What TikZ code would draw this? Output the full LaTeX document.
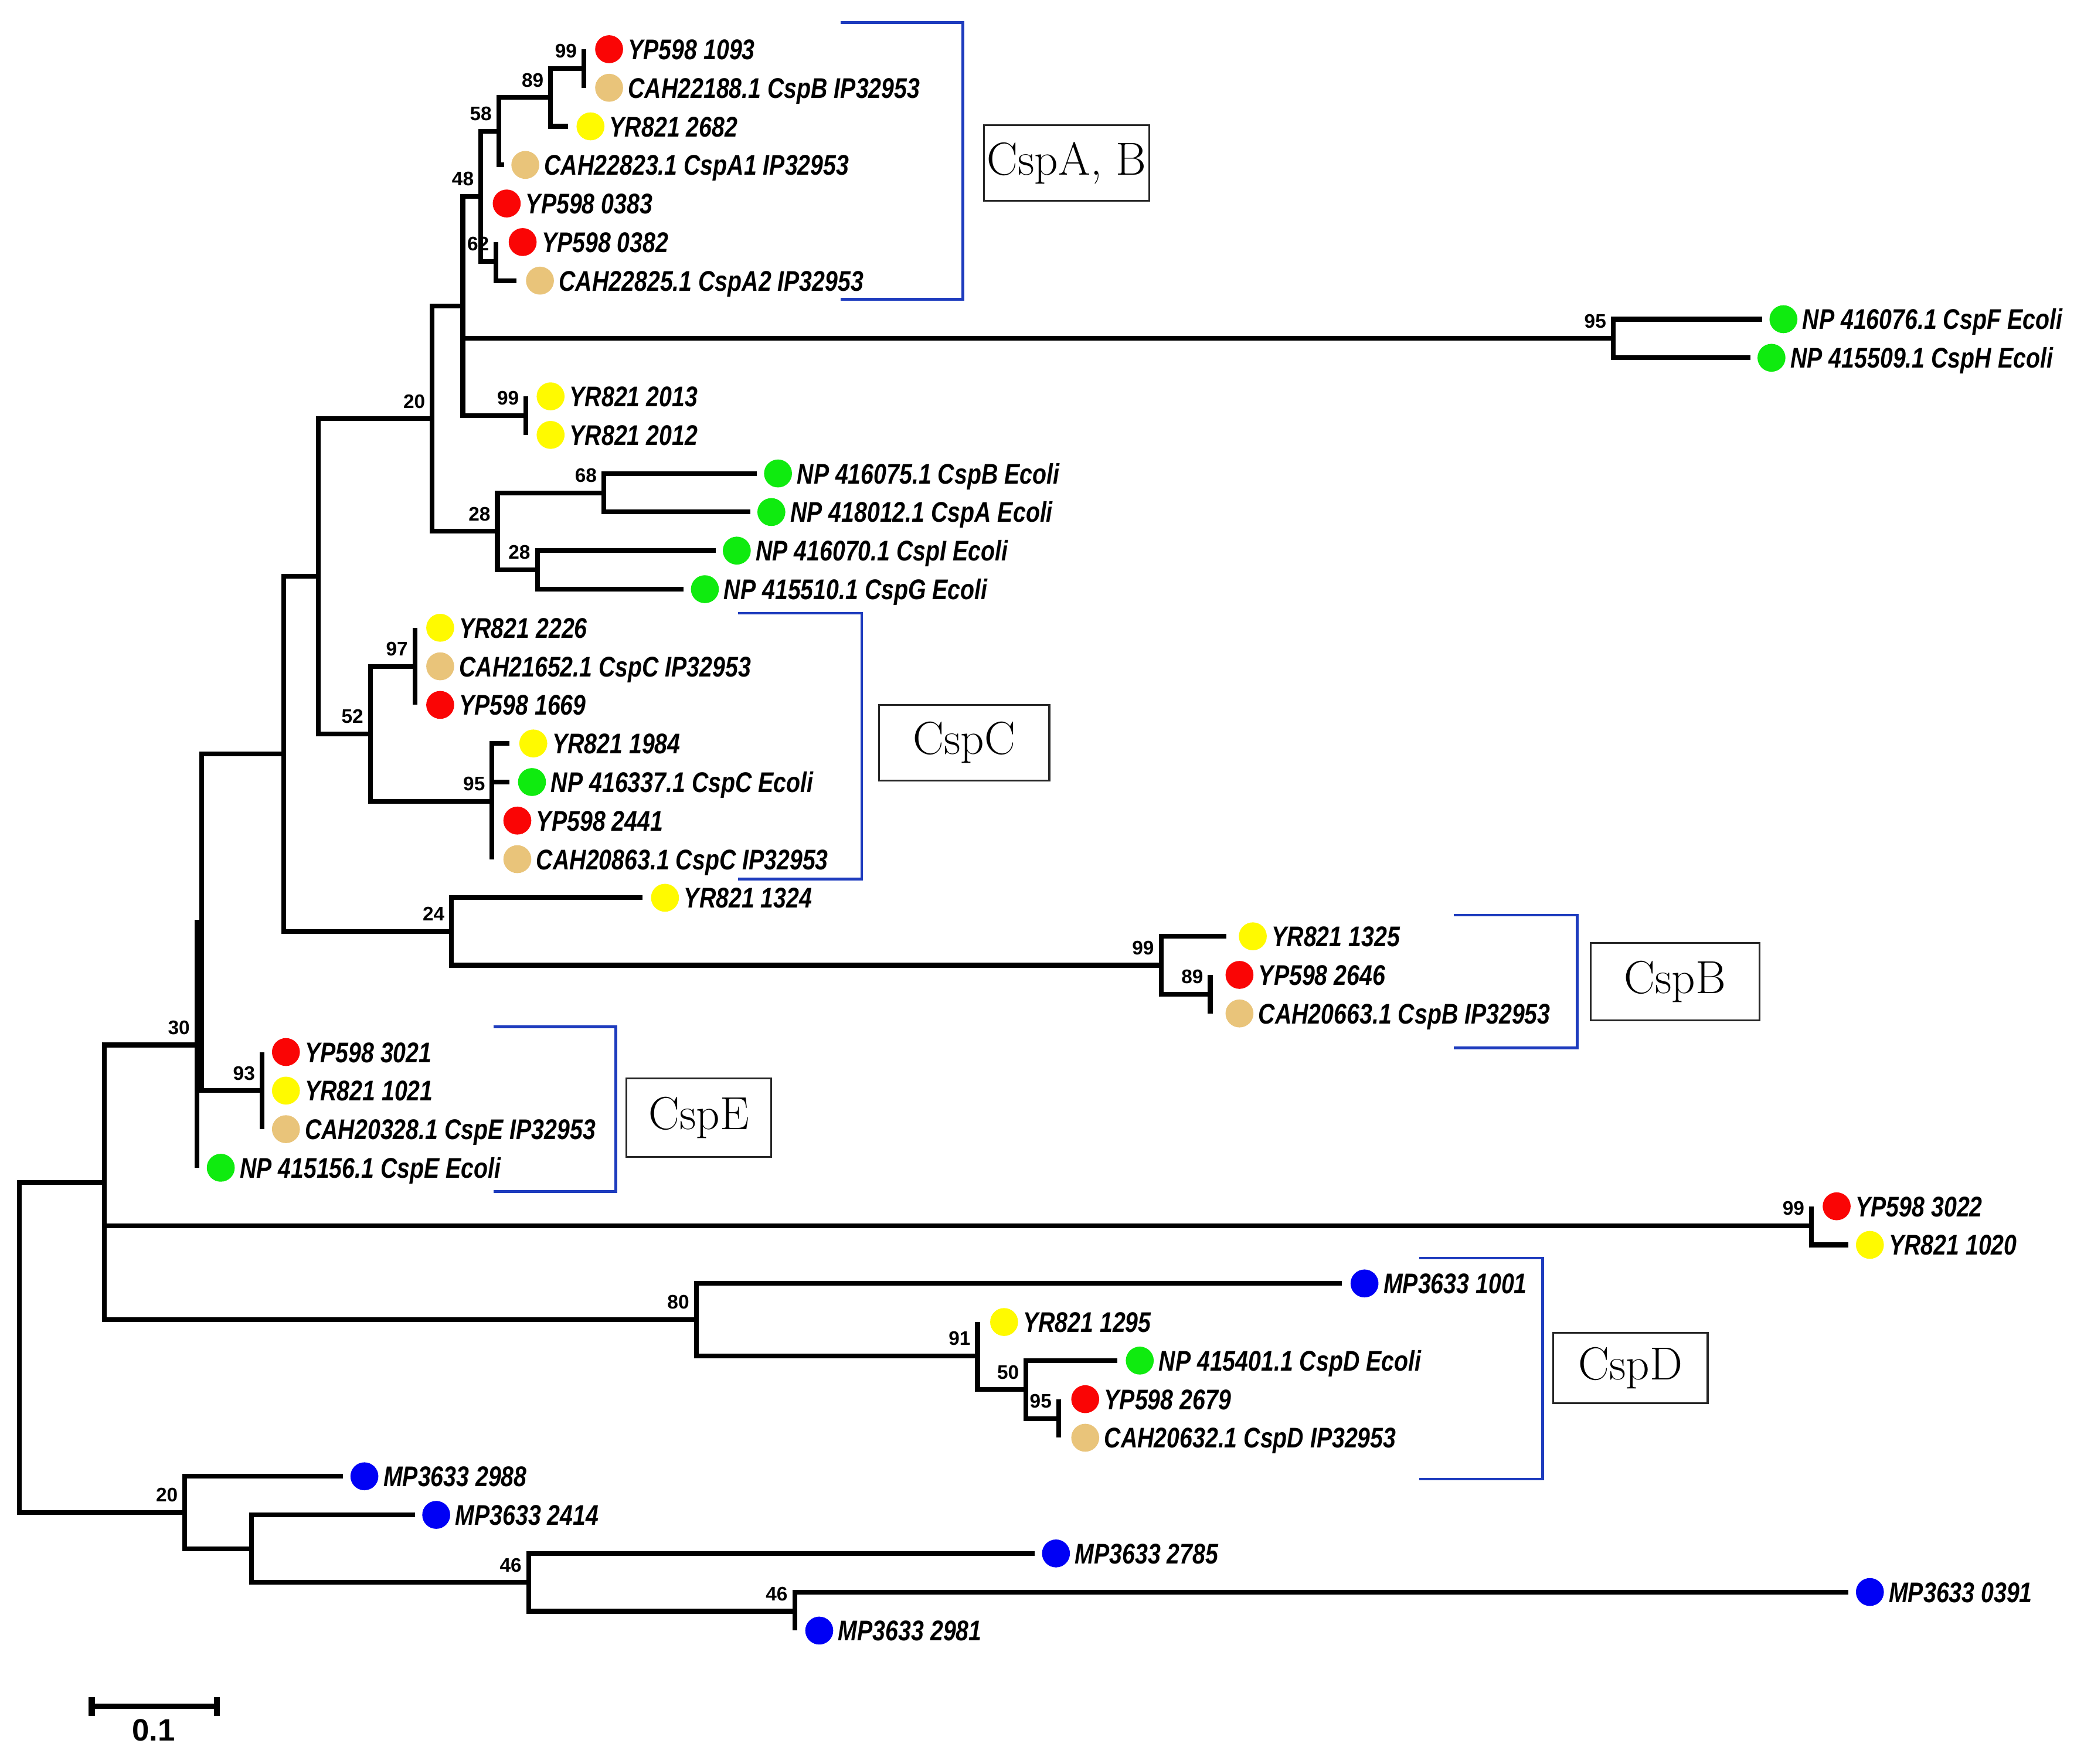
\documentclass[tikz,border=0pt]{standalone}
\usepackage{fontspec}
\newfontfamily\labfont[FakeStretch=0.81]{Liberation Sans}
\newfontfamily\numfont{Liberation Sans}
\definecolor{cred}{RGB}{250,5,5}
\definecolor{cyel}{RGB}{255,250,0}
\definecolor{ctan}{RGB}{233,196,122}
\definecolor{cgrn}{RGB}{15,235,15}
\definecolor{cblu}{RGB}{0,0,245}
\definecolor{cbrk}{RGB}{30,60,190}
\newlength\uu \setlength\uu{0.22687mm}
\tikzset{
  br/.style={line width=2.3pt, black},
  brk/.style={line width=1.3pt, cbrk},
  dot/.style={circle, draw=none, minimum size={21*\uu}, inner sep=0pt},
  lab/.style={anchor=base west, inner sep=0pt, font=\labfont\bfseries\itshape\fontsize{13.8}{16}\selectfont},
  bsl/.style={anchor=base east, inner sep=0pt, font=\numfont\bfseries\fontsize{9.5}{11}\selectfont},
  cbox/.style={draw=black!85, line width=0.9pt, inner sep=0pt, font=\fontsize{22.5}{26}\selectfont}
}
\newcommand\tleaf[6]{%
  \coordinate (#1) at (#2,#3);
  \node[dot,fill=#5] (#1d) at (#4,#3) {};
  \node[lab] (#1t) at (#4+14,#3+7.7) {#6};
}
\newcommand\bsv[2]{\node[bsl] (b#1) at ([shift={(-5,-8)}]#1) {#2};}
\begin{document}
\begin{tikzpicture}[x={(0.22687mm,0)}, y={(0,-0.22687mm)}]
\fill[white] (0,0) rectangle (1567,1326.3);
\useasboundingbox (0,0) rectangle (1567,1326.3);
% internal nodes
\coordinate (n99a) at (439,51.5);
\coordinate (n89) at (414,73.25);
\coordinate (n58) at (375,98.6);
\coordinate (n62) at (373,196.5);
\coordinate (nX) at (361.5,147.6);
\coordinate (n95F) at (1213,254.5);
\coordinate (n99b) at (395.5,312.5);
\coordinate (n48) at (348,230.05);
\coordinate (n68) at (454,370.5);
\coordinate (n28b) at (404,428.5);
\coordinate (n28a) at (374,399.5);
\coordinate (n20) at (325,314.8);
\coordinate (n97) at (312,501);
\coordinate (n95C) at (370,602.5);
\coordinate (n52) at (278.5,551.75);
\coordinate (nY) at (239.5,433.3);
\coordinate (n89B) at (910,747.5);
\coordinate (n99B) at (873,725.75);
\coordinate (n24) at (339.5,700.4);
\coordinate (nZ) at (213.5,566.85);
\coordinate (n93) at (197,820);
\coordinate (nB) at (151.5,693.4);
\coordinate (n30) at (148,785.7);
\coordinate (n99D) at (1362,921.5);
\coordinate (n95D) at (796,1066.5);
\coordinate (n50) at (771.5,1044.75);
\coordinate (n91) at (735,1019.4);
\coordinate (n80) at (523.5,992.2);
\coordinate (nW) at (78.5,888.95);
\coordinate (n46b) at (597.5,1211.5);
\coordinate (n46a) at (397.5,1189.75);
\coordinate (nV) at (189,1164.4);
\coordinate (n20b) at (139,1137.2);
\coordinate (root) at (14.5,1013.1);
% leaves
\tleaf{l0}{439}{37}{458}{cred}{YP598 1093}
\tleaf{l1}{439}{66}{458}{ctan}{CAH22188.1 CspB IP32953}
\tleaf{l2}{427}{95}{444}{cyel}{YR821 2682}
\tleaf{l3}{379}{124}{395}{ctan}{CAH22823.1 CspA1 IP32953}
\tleaf{l4}{361.5}{153}{381}{cred}{YP598 0383}
\tleaf{l5}{373}{182}{393}{cred}{YP598 0382}
\tleaf{l6}{388.5}{211}{406}{ctan}{CAH22825.1 CspA2 IP32953}
\tleaf{l7}{1325}{240}{1341}{cgrn}{NP 416076.1 CspF Ecoli}
\tleaf{l8}{1316}{269}{1332}{cgrn}{NP 415509.1 CspH Ecoli}
\tleaf{l9}{395.5}{298}{414}{cyel}{YR821 2013}
\tleaf{l10}{395.5}{327}{414}{cyel}{YR821 2012}
\tleaf{l11}{569}{356}{585}{cgrn}{NP 416075.1 CspB Ecoli}
\tleaf{l12}{564}{385}{580}{cgrn}{NP 418012.1 CspA Ecoli}
\tleaf{l13}{538}{414}{554}{cgrn}{NP 416070.1 CspI Ecoli}
\tleaf{l14}{514}{443}{530}{cgrn}{NP 415510.1 CspG Ecoli}
\tleaf{l15}{312}{472}{331}{cyel}{YR821 2226}
\tleaf{l16}{312}{501}{331}{ctan}{CAH21652.1 CspC IP32953}
\tleaf{l17}{312}{530}{331}{cred}{YP598 1669}
\tleaf{l18}{383}{559}{401}{cyel}{YR821 1984}
\tleaf{l19}{383}{588}{400}{cgrn}{NP 416337.1 CspC Ecoli}
\tleaf{l20}{370}{617}{389}{cred}{YP598 2441}
\tleaf{l21}{370}{646}{389}{ctan}{CAH20863.1 CspC IP32953}
\tleaf{l22}{483}{675}{500}{cyel}{YR821 1324}
\tleaf{l23}{922}{704}{942}{cyel}{YR821 1325}
\tleaf{l24}{910}{733}{932}{cred}{YP598 2646}
\tleaf{l25}{910}{762}{932}{ctan}{CAH20663.1 CspB IP32953}
\tleaf{l26}{197}{791}{215}{cred}{YP598 3021}
\tleaf{l27}{197}{820}{215}{cyel}{YR821 1021}
\tleaf{l28}{197}{849}{215}{ctan}{CAH20328.1 CspE IP32953}
\tleaf{l29}{148}{878}{166}{cgrn}{NP 415156.1 CspE Ecoli}
\tleaf{l30}{1362}{907}{1381}{cred}{YP598 3022}
\tleaf{l31}{1390}{936}{1406}{cyel}{YR821 1020}
\tleaf{l32}{1009}{965}{1026}{cblu}{MP3633 1001}
\tleaf{l33}{735}{994}{755}{cyel}{YR821 1295}
\tleaf{l34}{840}{1023}{857}{cgrn}{NP 415401.1 CspD Ecoli}
\tleaf{l35}{796}{1052}{816}{cred}{YP598 2679}
\tleaf{l36}{796}{1081}{816}{ctan}{CAH20632.1 CspD IP32953}
\tleaf{l37}{258}{1110}{274}{cblu}{MP3633 2988}
\tleaf{l38}{312}{1139}{328}{cblu}{MP3633 2414}
\tleaf{l39}{778}{1168}{794}{cblu}{MP3633 2785}
\tleaf{l40}{1390}{1197}{1406}{cblu}{MP3633 0391}
\tleaf{l41}{597.5}{1226}{616}{cblu}{MP3633 2981}
% bootstrap values
\bsv{n99a}{99}
\bsv{n89}{89}
\bsv{n58}{58}
\bsv{nX}{48}
\bsv{n62}{62}
\bsv{n95F}{95}
\bsv{n99b}{99}
\bsv{n20}{20}
\bsv{n68}{68}
\bsv{n28a}{28}
\bsv{n28b}{28}
\bsv{n97}{97}
\bsv{n52}{52}
\bsv{n95C}{95}
\bsv{n24}{24}
\bsv{n99B}{99}
\bsv{n89B}{89}
\bsv{n30}{30}
\bsv{n93}{93}
\bsv{n99D}{99}
\bsv{n80}{80}
\bsv{n91}{91}
\bsv{n50}{50}
\bsv{n95D}{95}
\bsv{n20b}{20}
\bsv{n46a}{46}
\bsv{n46b}{46}
% branches
\foreach \p/\c in {n99a/l0, n99a/l1, n89/n99a, n89/l2, n58/n89, n58/l3,
  nX/n58, nX/l4, nX/n62, n62/l5, n62/l6, n48/nX, n48/n95F, n48/n99b,
  n95F/l7, n95F/l8, n99b/l9, n99b/l10, n20/n48, n20/n28a, n28a/n68, n28a/n28b,
  n68/l11, n68/l12, n28b/l13, n28b/l14, nY/n20, nY/n52, n52/n97, n52/n95C,
  n97/l15, n97/l16, n97/l17, n95C/l18, n95C/l19, n95C/l20, n95C/l21,
  nZ/nY, nZ/n24, n24/l22, n24/n99B, n99B/l23, n99B/n89B, n89B/l24, n89B/l25,
  nB/nZ, nB/n93, n93/l26, n93/l27, n93/l28, n30/nB, n30/l29,
  nW/n30, nW/n99D, nW/n80, n99D/l30, n99D/l31, n80/l32, n80/n91,
  n91/l33, n91/n50, n50/l34, n50/n95D, n95D/l35, n95D/l36,
  root/nW, root/n20b, n20b/l37, n20b/nV, nV/l38, nV/n46a, n46a/l39, n46a/n46b,
  n46b/l40, n46b/l41}
  \draw[br] (\p) |- (\c);
% clade brackets
\draw[brk] (632,17) -- (724,17) -- (724,225) -- (632,225);
\draw[brk] (555,461) -- (648,461) -- (648,661) -- (555,661);
\draw[brk] (1093,688) -- (1186,688) -- (1186,788) -- (1093,788);
\draw[brk] (371,772) -- (463,772) -- (463,896) -- (371,896);
\draw[brk] (1067,946) -- (1160,946) -- (1160,1112) -- (1067,1112);
% clade boxes
\node[cbox, minimum width={124*\uu}, minimum height={57*\uu}] (bxAB) at (802,122.5) {CspA, B};
\node[cbox, minimum width={128*\uu}, minimum height={57*\uu}] (bxC) at (725,558.5) {CspC};
\node[cbox, minimum width={127*\uu}, minimum height={58*\uu}] (bxB) at (1259.5,738) {CspB};
\node[cbox, minimum width={109*\uu}, minimum height={59*\uu}] (bxE) at (525.5,840.5) {CspE};
\node[cbox, minimum width={116*\uu}, minimum height={53*\uu}] (bxD) at (1226,1028.5) {CspD};
% scale bar
\coordinate (sbL) at (69,1283);
\coordinate (sbR) at (163,1283);
\draw[line width=2.6pt] (sbL) -- (sbR);
\draw[line width=3pt] ([yshift={7*\uu}]sbL) -- ([yshift={-7*\uu}]sbL);
\draw[line width=3pt] ([yshift={7*\uu}]sbR) -- ([yshift={-7*\uu}]sbR);
\node[inner sep=0pt, font=\numfont\bfseries\fontsize{15}{17}\selectfont] (sbt) at (115.5,1301) {0.1};
\end{tikzpicture}
\end{document}
